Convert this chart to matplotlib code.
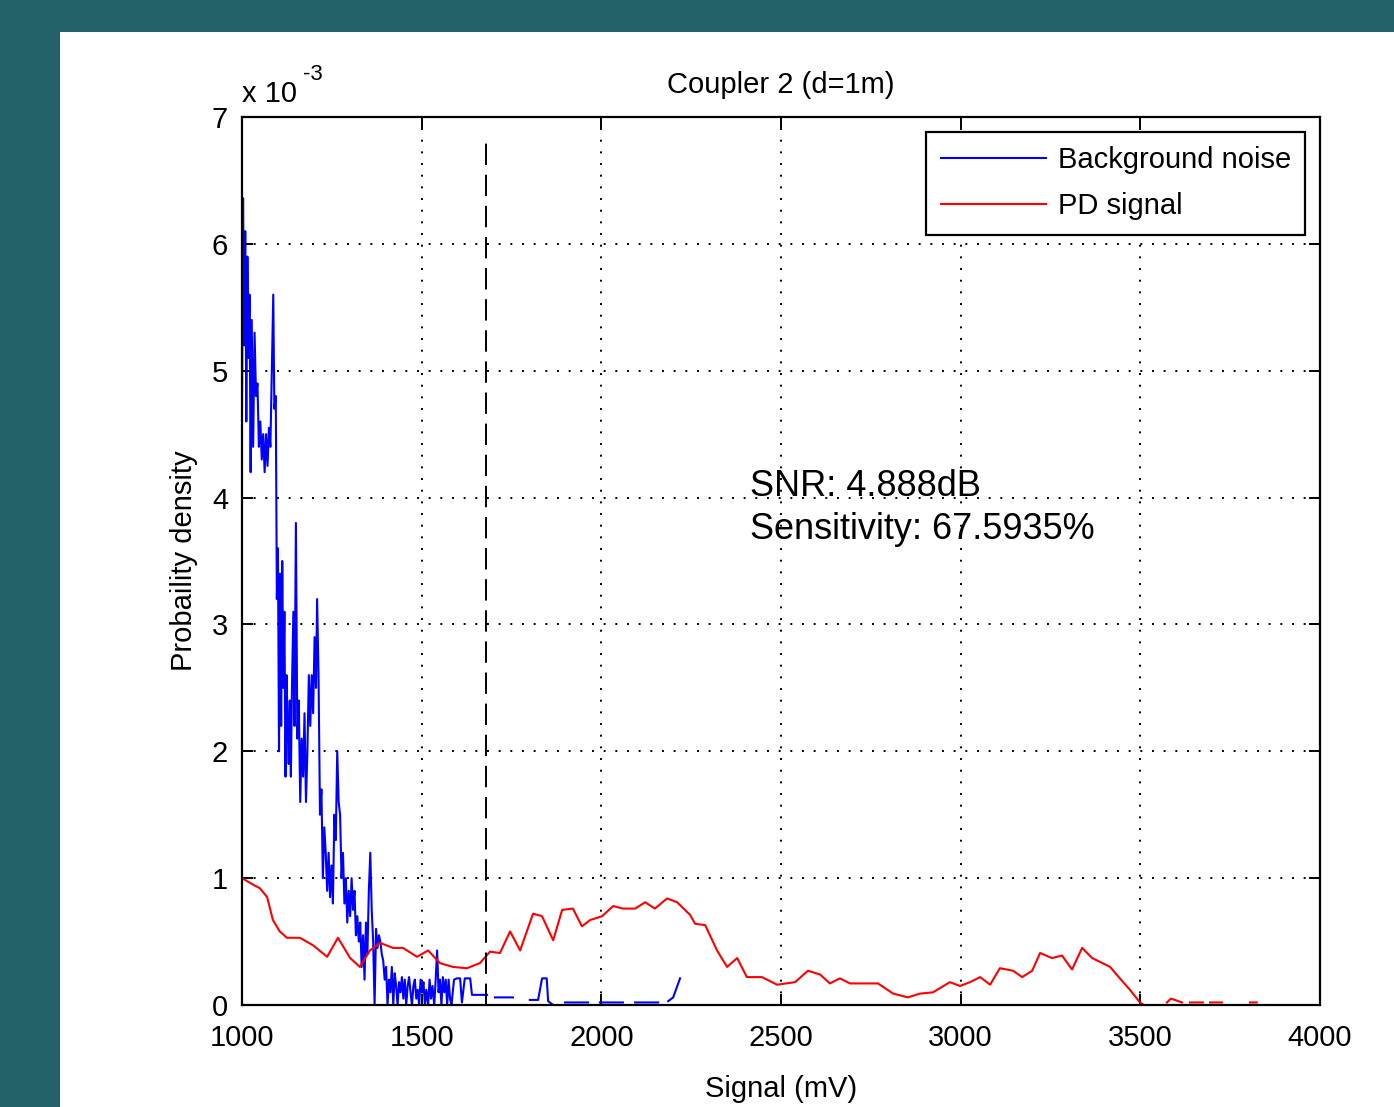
import numpy as np
import matplotlib
matplotlib.use("Agg")
import matplotlib.pyplot as plt
from matplotlib.patches import Rectangle

plt.rcParams['font.family'] = ['Liberation Sans', 'DejaVu Sans']

nan = np.nan

# Background noise histogram (signal mV, density x 1e-3)
noise_x = [1000, 1003, 1006, 1009, 1012, 1015, 1018, 1021, 1024, 1027, 1031, 1035,
           1039, 1043, 1047, 1051, 1055, 1059, 1063, 1067, 1071, 1075, 1079, 1083,
           1087, 1090, 1094, 1097, 1100, 1103, 1106, 1109, 1112, 1115, 1118, 1121,
           1124, 1127, 1130, 1133, 1136, 1139, 1143, 1146, 1150, 1154, 1158, 1162,
           1166, 1170, 1174, 1178, 1182, 1186, 1190, 1194, 1198, 1202, 1206, 1209,
           1213, 1217, 1221, 1225, 1229, 1233, 1237, 1241, 1245, 1249, 1253, 1257,
           1261, 1265, 1269, 1273, 1277, 1281, 1285, 1289, 1293, 1297, 1301, 1305,
           1309, 1313, 1317, 1321, 1325, 1329, 1333, 1337, 1341, 1345, 1349, 1353,
           1357, 1361, 1365, 1369, 1373, 1377, 1381, 1385, 1389, 1393, 1397, 1401,
           1405, 1409, 1413, 1417, 1421, 1425, 1429, 1433, 1437, 1441, 1445, 1449,
           1453, 1457, 1461, 1465, 1469, 1473, 1477, 1481, 1485, 1489, 1493, 1497,
           1501, 1505, 1509, 1513, 1518, 1522, 1526, 1530, 1535, 1539, 1543, 1547,
           1551, 1555, 1559, 1563, 1567, 1571, 1575, 1579, 1583, 1590, 1598, 1607,
           1612, 1620, 1635, 1640, 1682, 1690, 1704, 1754, 1770, 1801, 1824, 1835,
           1848, 1852, 1866, 1880, 1899, 1963, 1980, 1996, 2060, 2075, 2094, 2158,
           2170, 2186, 2200, 2219]
noise_y = [4.7, 6.36, 5.2, 6.1, 4.6, 5.9, 5.1, 5.6, 4.2, 5.4, 4.4, 5.3,
           4.8, 4.9, 4.4, 4.6, 4.3, 4.5, 4.2, 4.5, 4.25, 4.55, 4.4, 5.0,
           5.6, 4.7, 4.8, 3.2, 3.6, 2.0, 3.4, 2.2, 3.5, 2.5, 3.1, 1.8,
           2.6, 2.2, 1.9, 2.4, 1.8, 2.5, 3.1, 2.2, 3.8, 2.1, 2.4, 1.6,
           2.1, 1.8, 2.3, 1.6, 2.0, 2.6, 2.2, 2.6, 2.3, 2.9, 2.5, 3.2,
           2.6, 1.5, 1.7, 1.0, 1.4, 1.2, 0.9, 1.2, 0.85, 1.1, 0.8, 1.5,
           1.3, 2.0, 1.6, 1.5, 1.0, 1.2, 0.8, 1.0, 0.65, 0.9, 0.7, 1.0,
           0.75, 0.9, 0.55, 0.7, 0.5, 0.65, 0.3, 0.55, 0.2, 0.65, 0.4, 0.9,
           1.2, 0.75, 0.5, 0.0, 0.6, 0.45, 0.55, 0.5, 0.4, 0.35, 0.2, 0.3,
           0.0, 0.2, 0.1, 0.3, 0.0, 0.25, 0.15, 0.0, 0.18, 0.1, 0.22, 0.05,
           0.2, 0.0, 0.15, 0.22, 0.1, 0.0, 0.15, 0.2, 0.05, 0.12, 0.0, 0.2,
           0.1, 0.18, 0.0, 0.12, 0.0, 0.2, 0.05, 0.15, 0.0, 0.2, 0.43, 0.1,
           0.2, 0.0, 0.22, 0.1, 0.2, 0.0, 0.2, 0.05, 0.0, 0.2, 0.21, 0.21,
           0.02, 0.21, 0.21, 0.08, 0.08, nan, 0.06, 0.06, nan, 0.04, 0.04, 0.21,
           0.21, 0.03, 0.0, nan, 0.02, 0.02, nan, 0.02, 0.02, nan, 0.02, 0.02,
           nan, 0.03, 0.06, 0.21]

# PD signal histogram (signal mV, density x 1e-3)
pd_x = [1000, 1030, 1050, 1070, 1086, 1105, 1125, 1161, 1198, 1237, 1267, 1301,
        1328, 1356, 1384, 1420, 1448, 1487, 1518, 1551, 1587, 1626, 1662, 1690,
        1718, 1746, 1774, 1810, 1835, 1866, 1891, 1921, 1946, 1969, 2002, 2033,
        2060, 2094, 2122, 2149, 2183, 2211, 2247, 2261, 2289, 2322, 2350, 2378,
        2405, 2447, 2489, 2539, 2575, 2609, 2636, 2664, 2692, 2770, 2812, 2853,
        2887, 2923, 2970, 2998, 3026, 3054, 3082, 3109, 3146, 3171, 3199, 3221,
        3254, 3282, 3310, 3338, 3366, 3416, 3443, 3471, 3499, 3510, 3540,
        3574, 3585, 3596, 3616, 3625, 3638, 3674, 3685, 3694, 3727, 3760, 3805, 3824]
pd_y = [1.0, 0.95, 0.92, 0.85, 0.67, 0.58, 0.53, 0.53, 0.47, 0.38, 0.53, 0.37,
        0.30, 0.43, 0.49, 0.45, 0.45, 0.38, 0.43, 0.33, 0.30, 0.29, 0.33, 0.42,
        0.41, 0.58, 0.43, 0.72, 0.70, 0.51, 0.75, 0.76, 0.62, 0.67, 0.70, 0.78,
        0.76, 0.76, 0.81, 0.76, 0.84, 0.81, 0.71, 0.64, 0.63, 0.43, 0.30, 0.37,
        0.22, 0.22, 0.16, 0.18, 0.27, 0.24, 0.17, 0.21, 0.17, 0.17, 0.09, 0.06,
        0.09, 0.10, 0.18, 0.15, 0.18, 0.22, 0.16, 0.29, 0.27, 0.22, 0.27, 0.41,
        0.37, 0.39, 0.28, 0.45, 0.37, 0.30, 0.21, 0.12, 0.02, 0.0, nan,
        0.02, 0.05, 0.04, 0.02, nan, 0.02, 0.02, nan, 0.02, 0.02, nan, 0.02, 0.02]

threshold = 1680
x_ticks = [1000, 1500, 2000, 2500, 3000, 3500, 4000]
y_ticks = [0, 1, 2, 3, 4, 5, 6, 7]
snr_text = "SNR: 4.888dB\nSensitivity: 67.5935%"

fig = plt.figure(figsize=(13.94, 11.07), dpi=100)
fig.patch.set_facecolor('#236269')
fig.patches.append(Rectangle((60/1394, 0), 1, (1107-32)/1107, transform=fig.transFigure,
                             facecolor='white', edgecolor='none', zorder=-10))

ax = fig.add_axes([242/1394, (1107-1005)/1107, (1320-242)/1394, (1005-117)/1107])
sc = 1e-3
ax.plot(noise_x, np.array(noise_y) * sc, color='blue', lw=1.5, label='Background noise')
ax.plot(pd_x, np.array(pd_y) * sc, color='red', lw=1.5, label='PD signal')
ax.plot([threshold, threshold], [0, 6.82e-3], color='black', lw=1.4,
        linestyle=(0, (11, 5)))

ax.set_xlim(1000, 4000)
ax.set_ylim(0, 7e-3)
ax.set_xticks(x_ticks)
ax.set_xticklabels([str(t) for t in x_ticks])
ax.set_yticks([t * sc for t in y_ticks])
ax.set_yticklabels([str(t) for t in y_ticks])
ax.tick_params(direction='in', top=True, right=True, length=8, width=1.4,
               labelsize=21, pad=10)
ax.tick_params(axis='x', pad=14)
for s in ax.spines.values():
    s.set_linewidth(1.6)
ax.grid(True, color='black', linestyle=(0, (1, 5)), lw=1.4)

ax.set_title("Coupler 2 (d=1m)", fontsize=21, pad=17)
ax.set_xlabel("Signal (mV)", fontsize=21, labelpad=16)
ax.set_ylabel("Probaility density", fontsize=21, labelpad=10)

ax.text(0.0, 1.01, "x 10", transform=ax.transAxes, fontsize=21, ha='left', va='bottom')
ax.text(0.057, 1.036, "-3", transform=ax.transAxes, fontsize=16, ha='left', va='bottom')

ax.text(2414, 3.92e-3, snr_text, fontsize=26, ha='left', va='center', linespacing=1.3)

leg = ax.legend(loc='upper right', fontsize=21, handlelength=3.6, handletextpad=0.4,
                labelspacing=0.62, fancybox=False, framealpha=1, edgecolor='black',
                borderaxespad=0.5, borderpad=0.5)
leg.get_frame().set_linewidth(1.6)

fig.savefig("out.png", dpi=100, facecolor=fig.get_facecolor())
